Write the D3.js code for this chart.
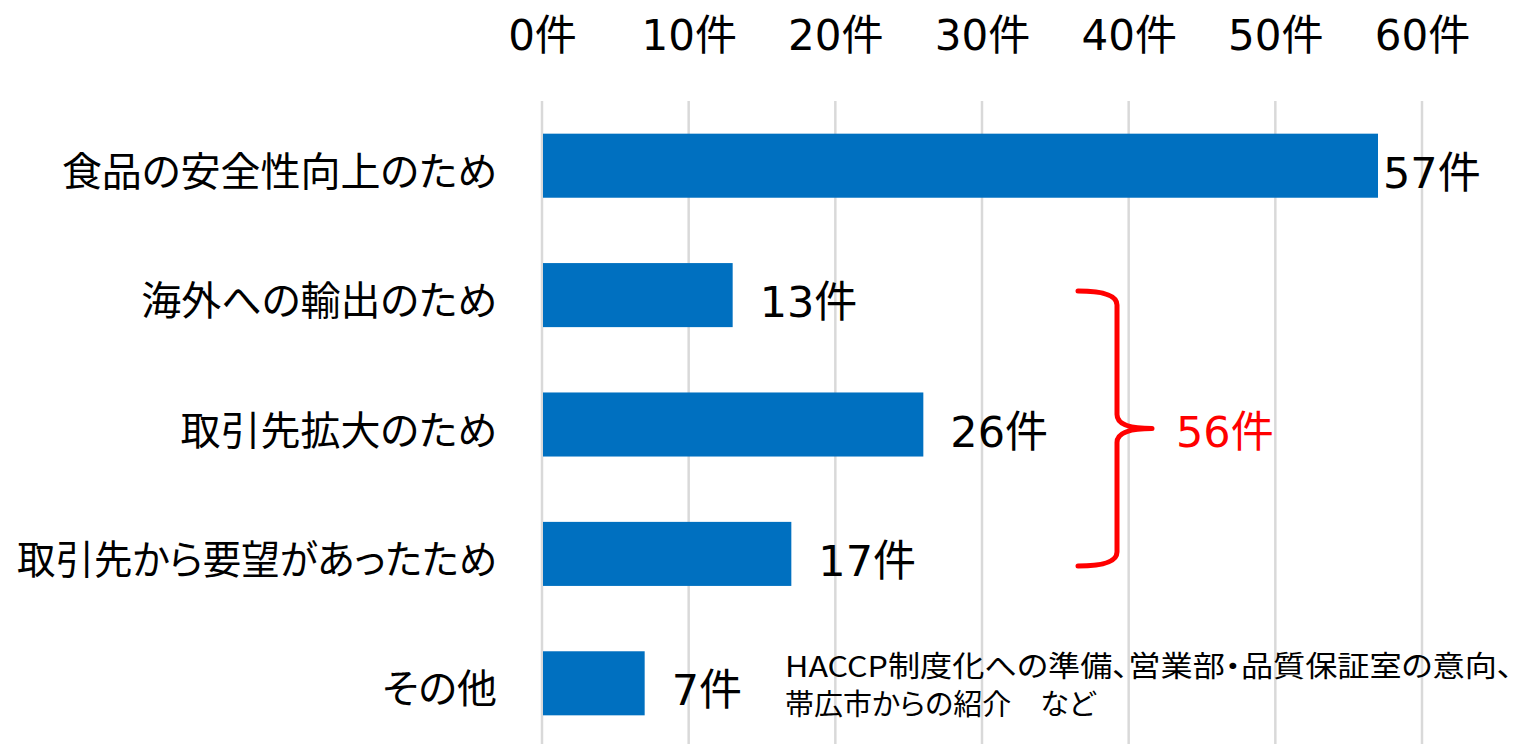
<!DOCTYPE html>
<html lang="ja">
<head>
<meta charset="utf-8">
<script src="https://cdn.jsdelivr.net/npm/d3@7"></script>
<style>
  html, body { margin: 0; padding: 0; background: #ffffff; }
  svg { display: block; font-family: "DejaVu Sans", "Noto Sans CJK JP", sans-serif; }
  .cjk { font-family: "Noto Sans CJK JP", sans-serif; font-feature-settings: "palt"; }
</style>
</head>
<body>
<svg id="chart" width="1518" height="744"></svg>
<script>
// 導入理由ごとの件数
const categories = [
  "食品の安全性向上のため",
  "海外への輸出のため",
  "取引先拡大のため",
  "取引先から要望があったため",
  "その他"
];
const counts = [57, 13, 26, 17, 7];
const tickValues = [0, 10, 20, 30, 40, 50, 60];
const unit = "件";

// 括弧でまとめる項目と「その他」の内訳
const groupedCategories = ["海外への輸出のため", "取引先拡大のため", "取引先から要望があったため"];
const otherNotes = [
  "HACCP制度化への準備、営業部・品質保証室の意向、",
  "帯広市からの紹介　など"
];

const svg = d3.select("#chart");
const rows = categories.map((c, i) => ({ category: c, count: counts[i] }));

const x = d3.scaleLinear().domain([0, 60]).range([542, 1422]);
const y = d3.scaleBand()
  .domain(categories)
  .range([101, 748])
  .paddingInner(0.505)
  .paddingOuter(0.2525);

// 縦の目盛線
svg.append("g")
  .selectAll("line")
  .data(tickValues)
  .join("line")
  .attr("x1", d => x(d)).attr("x2", d => x(d))
  .attr("y1", 101).attr("y2", 744)
  .attr("stroke", "#d9d9d9")
  .attr("stroke-width", 2.5);

// 上部の目盛ラベル
const axis = d3.axisTop(x).tickValues(tickValues).tickFormat(d => d + unit).tickSize(0);
const axisG = svg.append("g").attr("transform", "translate(0,50)").call(axis);
axisG.select(".domain").remove();
axisG.attr("font-family", null).attr("font-size", null);
axisG.selectAll("text")
  .attr("y", 0).attr("dy", 0)
  .attr("font-size", 42)
  .attr("fill", "#000");

// 棒
svg.append("g")
  .selectAll("rect")
  .data(rows)
  .join("rect")
  .attr("x", x(0) + 1)
  .attr("y", d => y(d.category))
  .attr("width", d => x(d.count) - x(0) - 1)
  .attr("height", y.bandwidth())
  .attr("fill", "#0070C0");

// 項目名（左端からはみ出す長い名前は幅を詰める）
const labelRight = 497, labelMaxWidth = 480;
svg.append("g")
  .selectAll("text")
  .data(rows)
  .join("text")
  .attr("class", "cjk")
  .attr("x", labelRight)
  .attr("y", d => y(d.category) + y.bandwidth() / 2 + 3)
  .attr("dominant-baseline", "central")
  .attr("text-anchor", "end")
  .attr("font-size", 40)
  .attr("fill", "#000")
  .text(d => d.category)
  .each(function () {
    if (this.getComputedTextLength() > labelMaxWidth) {
      d3.select(this)
        .attr("textLength", labelMaxWidth)
        .attr("lengthAdjust", "spacingAndGlyphs");
    }
  });

// 件数ラベル
const maxCount = d3.max(counts);
svg.append("g")
  .selectAll("text")
  .data(rows)
  .join("text")
  .attr("x", d => x(d.count) + (d.count === maxCount ? 5 : 27))
  .attr("y", d => y(d.category) + y.bandwidth() / 2 + 22)
  .attr("font-size", 43)
  .attr("fill", "#000")
  .text(d => d.count + unit);

// 3項目をまとめる波括弧と合計
const gTop = y(groupedCategories[0]) + y.bandwidth() / 2 - 4;
const gBot = y(groupedCategories[groupedCategories.length - 1]) + y.bandwidth() / 2 + 12;
const gMid = (gTop + gBot) / 2;
const bx0 = 1078, bx1 = 1117, bx2 = 1152;
const brace = d3.path();
brace.moveTo(bx0, gTop);
brace.quadraticCurveTo(bx1, gTop, bx1, gTop + 14);
brace.lineTo(bx1, gMid - 14);
brace.quadraticCurveTo(bx1, gMid, bx2, gMid);
brace.quadraticCurveTo(bx1, gMid, bx1, gMid + 14);
brace.lineTo(bx1, gBot - 14);
brace.quadraticCurveTo(bx1, gBot, bx0, gBot);
svg.append("path")
  .attr("d", brace.toString())
  .attr("fill", "none")
  .attr("stroke", "#ff0000")
  .attr("stroke-width", 5)
  .attr("stroke-linecap", "round")
  .attr("stroke-linejoin", "round");

const groupTotal = d3.sum(rows.filter(r => groupedCategories.includes(r.category)), r => r.count);
svg.append("text")
  .attr("x", 1176)
  .attr("y", gMid + 18)
  .attr("font-size", 43)
  .attr("fill", "#ff0000")
  .text(groupTotal + unit);

// 「その他」の内訳
const otherY = y("その他") + y.bandwidth() / 2;
svg.append("g")
  .selectAll("text")
  .data(otherNotes)
  .join("text")
  .attr("class", "cjk")
  .attr("x", 785)
  .attr("y", (d, i) => otherY - 6 + i * 38)
  .attr("font-size", 29)
  .attr("fill", "#000")
  .attr("textLength", (d, i) => i === 0 ? 728 : null)
  .attr("lengthAdjust", "spacingAndGlyphs")
  .text(d => d);
</script>
</body>
</html>
